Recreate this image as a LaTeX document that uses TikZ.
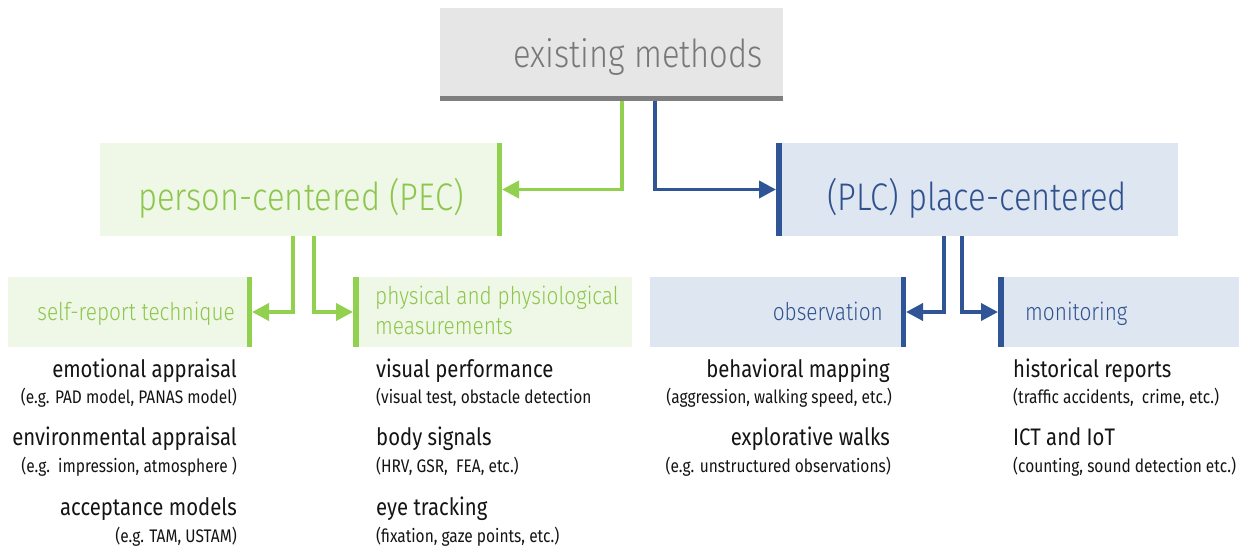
\documentclass[tikz,border=0pt]{standalone}
\usepackage{fontspec}
\setmainfont{Fira Sans}[FakeStretch=0.85, UprightFont={* Light}]
\newfontfamily\bodyfont{Fira Sans}[FakeStretch=0.85]
\usetikzlibrary{arrows.meta}

\definecolor{pecline}{RGB}{146,208,80}
\definecolor{pecfill}{RGB}{239,247,230}
\definecolor{pectext}{RGB}{141,198,77}
\definecolor{plcline}{RGB}{47,85,151}
\definecolor{plcfill}{RGB}{222,230,241}
\definecolor{plctext}{RGB}{47,82,143}
\definecolor{topfill}{RGB}{230,230,230}
\definecolor{topbar}{RGB}{127,127,127}
\definecolor{toptext}{RGB}{120,120,120}
\definecolor{bodytext}{RGB}{20,20,20}

\tikzset{
  panel/.style={draw=none, inner sep=0pt, outer sep=0pt, rectangle},
  barline/.style={line width=5.5pt},
  link/.style={line width=3.8pt, line join=miter,
    -{Triangle[length=17pt,width=17pt]}},
  head/.style={inner sep=0pt, font=\fontsize{38.5}{42}\selectfont},
  subhead/.style={inner sep=0pt, font=\fontsize{24.5}{30.5}\selectfont},
  item/.style={inner sep=0pt, text=bodytext, font=\bodyfont\fontsize{23.9}{27}\selectfont},
  note/.style={inner sep=0pt, text=bodytext, font=\bodyfont\fontsize{18.2}{21}\selectfont},
}

\begin{document}
\begin{tikzpicture}[x=1pt, y=-1pt]
\useasboundingbox (0,0) rectangle (1239,549);

% top box
\node[panel, fill=topfill, minimum width=343pt, minimum height=93pt] (top) at (611.5,54.5) {};
\draw[topbar, line width=5.5pt] (top.south west) ++(0,2.75pt) -- ([yshift=2.75pt]top.south east);
\node[head, anchor=base, text=toptext] (toplabel) at (638,67) {existing methods};

% first level
\node[panel, fill=pecfill, minimum width=402pt, minimum height=93pt] (pec) at (301,189.5) {};
\draw[pecline, barline] ([xshift=-2.75pt]pec.north east) -- ([xshift=-2.75pt]pec.south east);
\node[head, anchor=base, text=pectext] (peclabel) at (301,210) {person-centered (PEC)};

\node[panel, fill=plcfill, minimum width=402pt, minimum height=93pt] (plc) at (977,189.5) {};
\draw[plcline, barline] ([xshift=2.75pt]plc.north west) -- ([xshift=2.75pt]plc.south west);
\node[head, anchor=base, text=plctext] (plclabel) at (977,210) {(PLC) place-centered};

\draw[pecline, link] ([xshift=10.5pt]top.south) |- (pec.east);
\draw[plcline, link] ([xshift=43.5pt]top.south) |- (plc.west);

% second level
\node[panel, fill=pecfill, minimum width=244pt, minimum height=70pt] (self) at (130,312) {};
\draw[pecline, barline] ([xshift=-2.75pt]self.north east) -- ([xshift=-2.75pt]self.south east);
\node[subhead, anchor=base east, text=pectext] (selflabel) at (235,320) {self-report technique};

\node[panel, fill=pecfill, minimum width=279pt, minimum height=70pt] (phys) at (492.5,312) {};
\draw[pecline, barline] ([xshift=2.75pt]phys.north west) -- ([xshift=2.75pt]phys.south west);
\node[subhead, anchor=north west, align=left, text=pectext] (physlabel) at (375,285.5) {physical and physiological\\measurements};

\node[panel, fill=plcfill, minimum width=256pt, minimum height=70pt] (obs) at (778,312) {};
\draw[plcline, barline] ([xshift=-2.75pt]obs.north east) -- ([xshift=-2.75pt]obs.south east);
\node[subhead, anchor=base east, text=plctext] (obslabel) at (883,320) {observation};

\node[panel, fill=plcfill, minimum width=241pt, minimum height=70pt] (mon) at (1118.5,312) {};
\draw[plcline, barline] ([xshift=2.75pt]mon.north west) -- ([xshift=2.75pt]mon.south west);
\node[subhead, anchor=base west, text=plctext] (monlabel) at (1025,320) {monitoring};

\draw[pecline, link] ([xshift=-8pt]pec.south) |- (self.east);
\draw[pecline, link] ([xshift=13pt]pec.south) |- (phys.west);
\draw[plcline, link] ([xshift=-33pt]plc.south) |- (obs.east);
\draw[plcline, link] ([xshift=-15pt]plc.south) |- (mon.west);

% person-centered: self-report items
\node[item, anchor=base east] (emo) at (237,377) {emotional appraisal};
\node[note, anchor=base east] (emonote) at (237,403) {(e.g. PAD model, PANAS model)};
\node[item, anchor=base east] (env) at (237,445) {environmental appraisal};
\node[note, anchor=base east] (envnote) at (237,472) {(e.g.\ \ impression, atmosphere )};
\node[item, anchor=base east] (acc) at (237,515) {acceptance models};
\node[note, anchor=base east] (accnote) at (237,542) {(e.g. TAM, USTAM)};

% person-centered: measurement items
\node[item, anchor=base west] (vis) at (376,377) {visual performance};
\node[note, anchor=base west] (visnote) at (376,403) {(visual test, obstacle detection};
\node[item, anchor=base west] (body) at (376,445) {body signals};
\node[note, anchor=base west] (bodynote) at (376,472) {(HRV, GSR,\ \ FEA, etc.)};
\node[item, anchor=base west] (eye) at (376,515) {eye tracking};
\node[note, anchor=base west] (eyenote) at (376,542) {(fixation, gaze points, etc.)};

% place-centered: observation items
\node[item, anchor=base east] (beh) at (890,377) {behavioral mapping};
\node[note, anchor=base east] (behnote) at (892,403) {(aggression, walking speed, etc.)};
\node[item, anchor=base east] (exp) at (890,445) {explorative walks};
\node[note, anchor=base east] (expnote) at (891,472) {(e.g. unstructured observations)};

% place-centered: monitoring items
\node[item, anchor=base west] (hist) at (1013,377) {historical reports};
\node[note, anchor=base west] (histnote) at (1013,403) {(traffic accidents,\ \ crime, etc.)};
\node[item, anchor=base west] (ict) at (1013,445) {ICT and IoT};
\node[note, anchor=base west] (ictnote) at (1013,472) {(counting, sound detection etc.)};
\end{tikzpicture}
\end{document}
